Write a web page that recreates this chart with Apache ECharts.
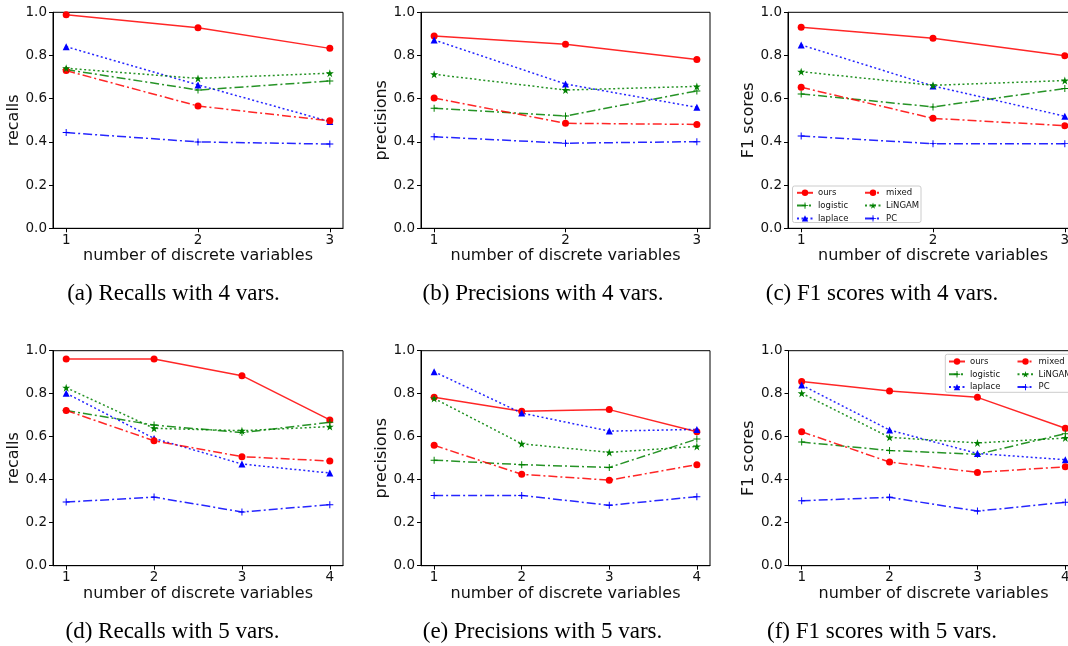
<!DOCTYPE html>
<html><head><meta charset="utf-8">
<script src="https://cdn.jsdelivr.net/npm/echarts@6/dist/echarts.min.js"></script>
<style>html,body{margin:0;padding:0;background:#fff}#c{width:1068px;height:646px}</style>
</head><body><div id="c"></div>
<script>
// ---------- data ----------
const methods = ['ours', 'logistic', 'laplace', 'mixed', 'LiNGAM', 'PC'];
const xTicks3 = [1, 2, 3];
const xTicks4 = [1, 2, 3, 4];
const yTickFmt = v => v.toFixed(1);

// (a) recalls, 4 vars
const a_ours     = [0.989, 0.929, 0.833];
const a_logistic = [0.735, 0.640, 0.682];
const a_laplace  = [0.841, 0.664, 0.494];
const a_mixed    = [0.730, 0.566, 0.498];
const a_LiNGAM   = [0.741, 0.694, 0.718];
const a_PC       = [0.443, 0.400, 0.390];
// (b) precisions, 4 vars
const b_ours     = [0.890, 0.852, 0.782];
const b_logistic = [0.556, 0.520, 0.636];
const b_laplace  = [0.872, 0.668, 0.560];
const b_mixed    = [0.603, 0.486, 0.481];
const b_LiNGAM   = [0.713, 0.640, 0.657];
const b_PC       = [0.424, 0.394, 0.401];
// (c) F1, 4 vars
const c_ours     = [0.931, 0.880, 0.799];
const c_logistic = [0.622, 0.562, 0.647];
const c_laplace  = [0.849, 0.659, 0.519];
const c_mixed    = [0.653, 0.509, 0.475];
const c_LiNGAM   = [0.725, 0.662, 0.684];
const c_PC       = [0.427, 0.392, 0.392];
// (d) recalls, 5 vars
const d_ours     = [0.961, 0.961, 0.884, 0.678];
const d_logistic = [0.722, 0.654, 0.619, 0.667];
const d_laplace  = [0.802, 0.592, 0.473, 0.431];
const d_mixed    = [0.722, 0.581, 0.507, 0.487];
const d_LiNGAM   = [0.828, 0.639, 0.628, 0.647];
const d_PC       = [0.296, 0.319, 0.250, 0.284];
// (e) precisions, 5 vars
const e_ours     = [0.783, 0.718, 0.726, 0.623];
const e_logistic = [0.491, 0.470, 0.457, 0.589];
const e_laplace  = [0.902, 0.710, 0.626, 0.634];
const e_mixed    = [0.560, 0.425, 0.398, 0.470];
const e_LiNGAM   = [0.778, 0.567, 0.527, 0.555];
const e_PC       = [0.327, 0.327, 0.281, 0.321];
// (f) F1, 5 vars
const f_ours     = [0.857, 0.812, 0.783, 0.639];
const f_logistic = [0.575, 0.536, 0.518, 0.614];
const f_laplace  = [0.840, 0.631, 0.522, 0.493];
const f_mixed    = [0.623, 0.482, 0.434, 0.460];
const f_LiNGAM   = [0.802, 0.597, 0.571, 0.594];
const f_PC       = [0.302, 0.318, 0.254, 0.295];

const yNames = ['recalls', 'precisions', 'F1 scores', 'recalls', 'precisions', 'F1 scores'];
const xName = 'number of discrete variables';
const captions = ['(a) Recalls with 4 vars.', '(b) Precisions with 4 vars.', '(c) F1 scores with 4 vars.',
                  '(d) Recalls with 5 vars.', '(e) Precisions with 5 vars.', '(f) F1 scores with 5 vars.'];

const panelData = [
  {x: xTicks3, s: {ours: a_ours, logistic: a_logistic, laplace: a_laplace, mixed: a_mixed, LiNGAM: a_LiNGAM, PC: a_PC}},
  {x: xTicks3, s: {ours: b_ours, logistic: b_logistic, laplace: b_laplace, mixed: b_mixed, LiNGAM: b_LiNGAM, PC: b_PC}},
  {x: xTicks3, s: {ours: c_ours, logistic: c_logistic, laplace: c_laplace, mixed: c_mixed, LiNGAM: c_LiNGAM, PC: c_PC}},
  {x: xTicks4, s: {ours: d_ours, logistic: d_logistic, laplace: d_laplace, mixed: d_mixed, LiNGAM: d_LiNGAM, PC: d_PC}},
  {x: xTicks4, s: {ours: e_ours, logistic: e_logistic, laplace: e_laplace, mixed: e_mixed, LiNGAM: e_LiNGAM, PC: e_PC}},
  {x: xTicks4, s: {ours: f_ours, logistic: f_logistic, laplace: f_laplace, mixed: f_mixed, LiNGAM: f_LiNGAM, PC: f_PC}}
];

// ---------- styling ----------
const RED = '#ff0000', GREEN = '#008000', BLUE = '#0000ff';
const DASHDOT = [9, 3, 2, 3];
const DOT = [2, 2.5];
const PLUS = 'path://M-0.14,-1 L0.14,-1 L0.14,-0.14 L1,-0.14 L1,0.14 L0.14,0.14 L0.14,1 L-0.14,1 L-0.14,0.14 L-1,0.14 L-1,-0.14 L-0.14,-0.14 Z';
const STAR = 'path://M0,-1 L0.2245,-0.309 L0.951,-0.309 L0.363,0.118 L0.588,0.809 L0,0.382 L-0.588,0.809 L-0.363,0.118 L-0.951,-0.309 L-0.2245,-0.309 Z';
const style = {
  ours:     {color: RED,   type: 'solid', symbol: 'circle',   size: 7},
  logistic: {color: GREEN, type: DASHDOT, symbol: PLUS,       size: 7},
  laplace:  {color: BLUE,  type: DOT,     symbol: 'triangle', size: 7},
  mixed:    {color: RED,   type: DASHDOT, symbol: 'circle',   size: 7},
  LiNGAM:   {color: GREEN, type: DOT,     symbol: STAR,       size: 8},
  PC:       {color: BLUE,  type: DASHDOT, symbol: PLUS,       size: 7}
};

const grids = [
  {left: 53, top: 12.3, width: 290, height: 216},
  {left: 421, top: 12.3, width: 289, height: 216},
  {left: 788, top: 12.3, width: 290, height: 216},
  {left: 53, top: 350.7, width: 290, height: 215},
  {left: 421, top: 350.7, width: 289, height: 215},
  {left: 788.5, top: 350.7, width: 290, height: 215}
];
const capPos = [[173.5, 293.7], [543, 293.7], [882, 293.7], [172.5, 631.5], [542.5, 631.5], [882, 631.5]];

const AX = '#000', TXT = '#111';
const option = {
  animation: false,
  backgroundColor: '#fff',
  grid: grids.map(g => Object.assign({show: true, borderColor: AX, borderWidth: 1, containLabel: false, outerBoundsMode: 'none'}, g)),
  xAxis: panelData.map((p, i) => {
    const n = p.x.length, pad = (p.x[n - 1] - p.x[0]) * 0.05;
    return {
      type: 'value', gridIndex: i, min: p.x[0] - pad, max: p.x[n - 1] + pad,
      name: xName, nameLocation: 'middle', nameGap: 20,
      nameTextStyle: {fontFamily: 'DejaVu Sans', fontSize: 16, color: TXT},
      axisLine: {show: true, lineStyle: {color: AX, width: 1}},
      axisTick: {show: true, length: 4, customValues: p.x, lineStyle: {color: AX}},
      axisLabel: {customValues: p.x, margin: 5, fontFamily: 'DejaVu Sans', fontSize: 13.5, color: TXT},
      splitLine: {show: false}
    };
  }),
  yAxis: panelData.map((p, i) => ({
    type: 'value', gridIndex: i, min: 0, max: 1, interval: 0.2,
    name: yNames[i], nameLocation: 'middle', nameGap: 22,
    nameTextStyle: {fontFamily: 'DejaVu Sans', fontSize: 16, color: TXT},
    axisLine: {show: true, lineStyle: {color: AX, width: 1}},
    axisTick: {show: true, length: 4, lineStyle: {color: AX}},
    axisLabel: {formatter: yTickFmt, margin: 6, fontFamily: 'DejaVu Sans', fontSize: 13.5, color: TXT},
    splitLine: {show: false}
  })),
  legend: [
    {data: ['ours', 'logistic', 'laplace'], left: 796, top: 188.3},
    {data: ['mixed', 'LiNGAM', 'PC'], left: 864, top: 188.3},
    {data: ['ours', 'logistic', 'laplace'], left: 948, top: 357},
    {data: ['mixed', 'LiNGAM', 'PC'], left: 1016.5, top: 357}
  ].map(l => Object.assign({
    orient: 'vertical', itemWidth: 16, itemHeight: 8, itemGap: 3.8, padding: 0, z: 20,
    selectedMode: false,
    textStyle: {fontFamily: 'DejaVu Sans', fontSize: 8.5, color: TXT, padding: [0, 0, 0, 0]}
  }, l)),
  graphic: [
    {type: 'rect', z: 15, shape: {x: 792.5, y: 186, width: 128.5, height: 36.5, r: 2},
     style: {fill: 'rgba(255,255,255,0.85)', stroke: '#cccccc', lineWidth: 1}},
    {type: 'rect', z: 15, shape: {x: 945.3, y: 354.3, width: 140, height: 38, r: 2},
     style: {fill: 'rgba(255,255,255,0.85)', stroke: '#cccccc', lineWidth: 1}}
  ].concat(captions.map((t, i) => ({
    type: 'text', x: capPos[i][0], y: capPos[i][1],
    style: {text: t, fontFamily: 'Liberation Serif', fontSize: 23, fill: '#000', align: 'center', verticalAlign: 'middle'}
  }))),
  series: []
};

panelData.forEach((p, i) => {
  methods.forEach(m => {
    const st = style[m];
    option.series.push({
      type: 'line', name: m, xAxisIndex: i, yAxisIndex: i,
      data: p.x.map((x, k) => [x, p.s[m][k]]),
      symbol: st.symbol, symbolSize: st.size, showSymbol: true,
      itemStyle: {color: st.color},
      lineStyle: {color: st.color, width: 1.5, type: st.type, opacity: 0.85},
      emphasis: {disabled: true}
    });
  });
});

const chart = echarts.init(document.getElementById('c'), null, {renderer: 'canvas'});
chart.setOption(option);
</script>
</body></html>
